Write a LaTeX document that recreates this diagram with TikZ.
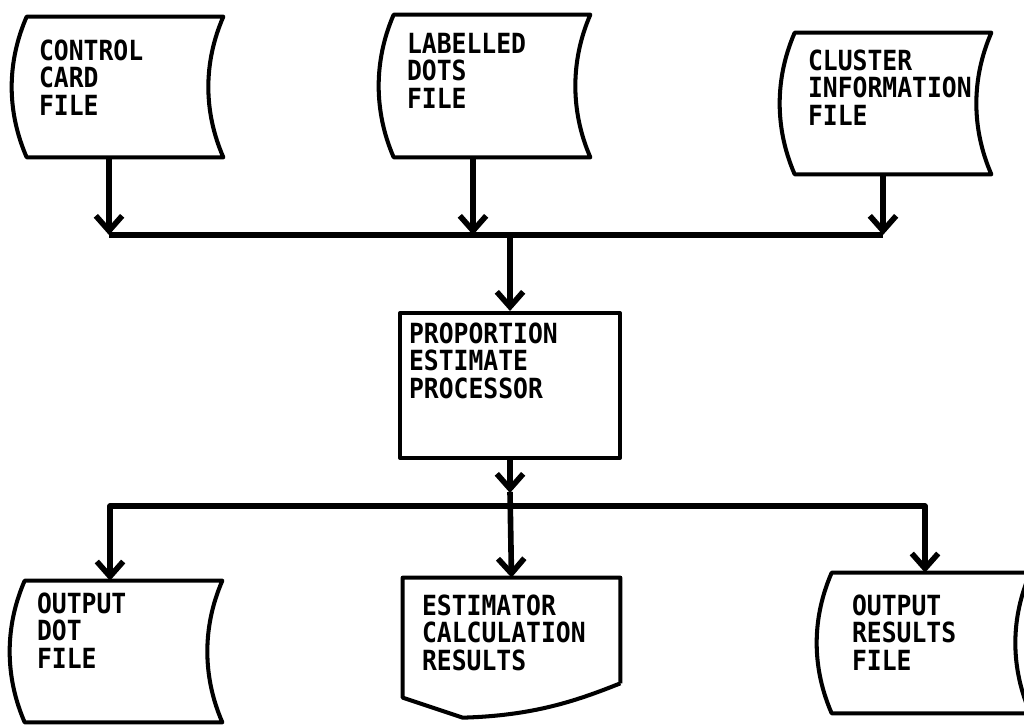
\documentclass[tikz,border=0pt]{standalone}
\usepackage{fontspec}
\usepackage{tikz}
\usetikzlibrary{arrows.meta, calc}
\newfontfamily\letterfont[FakeStretch=0.89]{DejaVu Sans Mono}

% stored-data outline round a (plain) node: both sides bow to the left
\newcommand{\storeoutline}[1]{%
  \draw[outline] (#1.north west) .. controls +(-20,46) and +(-20,-46) .. (#1.south west)
    -- (#1.south east) .. controls +(-20,-46) and +(-20,46) .. (#1.north east) -- cycle;}

\begin{document}
\begin{tikzpicture}[x=0.02cm, y=-0.02cm,
    file/.style={align=left, inner ysep=0pt,
                 font=\fontsize{15.8pt}{15.9pt}\letterfont\bfseries},
    outline/.style={draw=black, line width=2.3pt, line join=round},
    line/.style={draw=black, line width=3.2pt, line join=round},
    arr/.style={line, -{Straight Barb[length=8.5pt, width=15pt]}}]
  \useasboundingbox (0,0) rectangle (1024,726);

  % input files
  \node[file, text width=3.44cm, inner xsep=0.24cm, text height=0.86cm, text depth=1.94cm]
    (ctl) at (125,87) {CONTROL\\CARD\\FILE};
  \node[file, text width=3.40cm, inner xsep=0.26cm, text height=0.76cm, text depth=2.08cm]
    (dots) at (492,86) {LABELLED\\DOTS\\FILE};
  \node[file, text width=3.40cm, inner xsep=0.26cm, text height=0.74cm, text depth=2.08cm]
    (clu) at (893,103.5) {CLUSTER\\INFORMATION\\FILE};
  \storeoutline{ctl}
  \storeoutline{dots}
  \storeoutline{clu}

  % processor
  \node[file, outline, text width=4.04cm, inner xsep=0.18cm, text height=0.60cm, text depth=2.30cm]
    (proc) at (510,385.5) {PROPORTION\\ESTIMATE\\PROCESSOR};

  % outputs
  \node[file, text width=3.46cm, inner xsep=0.24cm, text height=0.64cm, text depth=2.18cm]
    (odot) at (123.5,651.5) {OUTPUT\\DOT\\FILE};
  \node[file, text width=3.58cm, inner xsep=0.38cm, text height=0.74cm, text depth=1.36cm]
    (est) at (511.5,630.5) {ESTIMATOR\\CALCULATION\\RESULTS};
  \node[file, text width=3.16cm, inner xsep=0.40cm, text height=0.84cm, text depth=1.96cm]
    (ores) at (931,643) {OUTPUT\\RESULTS\\FILE};
  \storeoutline{odot}
  \storeoutline{ores}
  % document with a wavy foot
  \draw[outline] (est.south east) -- (est.north east) -- (est.north west) -- ++(0,120)
    -- ++(60,20) .. controls +(70,-2) and +(-45,18) .. (est.south east);

  % join points
  \coordinate (inbus) at (510,235);
  \coordinate (outbus) at (510,506);
  \coordinate (ctlout) at ([xshift=-0.32cm]ctl.south);
  \coordinate (dotsout) at ([xshift=-0.38cm]dots.south);
  \coordinate (cluout) at ([xshift=-0.20cm]clu.south);
  \coordinate (odotin) at ([xshift=-0.27cm]odot.north);
  \coordinate (oresin) at ([xshift=-0.12cm]ores.north);

  % inputs into the processor
  \draw[line] (ctlout |- inbus) -- (cluout |- inbus);
  \draw[arr] (ctlout) -- (ctlout |- inbus);
  \draw[arr] (dotsout) -- (dotsout |- inbus);
  \draw[arr] (cluout) -- (cluout |- inbus);
  \draw[arr] (inbus) -- (proc.north);

  % processor out to the files
  \draw[arr] (proc.south) -- ([yshift=0.26cm]outbus);
  \draw[arr] ([yshift=0.28cm]outbus) -- (est.north);
  \draw[arr] (outbus) -| (odotin);
  \draw[arr] (outbus) -| (oresin);
\end{tikzpicture}
\end{document}
